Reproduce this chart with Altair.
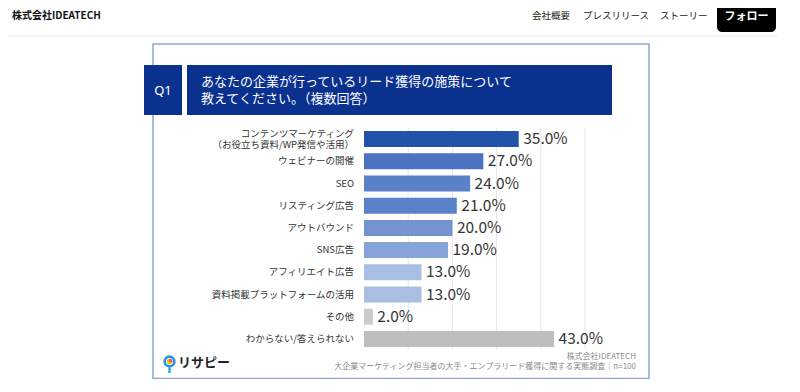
import altair as alt
import pandas as pd

# ---- data ----
categories = [
    "コンテンツマーケティング\n（お役立ち資料/WP発信や活用）",
    "ウェビナーの開催",
    "SEO",
    "リスティング広告",
    "アウトバウンド",
    "SNS広告",
    "アフィリエイト広告",
    "資料掲載プラットフォームの活用",
    "その他",
    "わからない/答えられない",
]
values = [35.0, 27.0, 24.0, 21.0, 20.0, 19.0, 13.0, 13.0, 2.0, 43.0]
bar_colors = ["#2352ab", "#4b73c1", "#5a80c7", "#5b81c8", "#7394d1", "#87a4d8",
              "#a8bee3", "#a8bee3", "#cacaca", "#bebebe"]
grid_values = [10, 20, 30, 40, 50]

question_tag = "Q1"
title_line1 = "あなたの企業が行っているリード獲得の施策について"
title_line2 = "教えてください。（複数回答）"
site_name = "株式会社IDEATECH"
nav_items = ["会社概要", "プレスリリース", "ストーリー"]
follow_label = "フォロー"
source_company = "株式会社IDEATECH"
source_text = "大企業マーケティング担当者の大手・エンプラリード獲得に関する実態調査｜n=100"
logo_text = "リサピー"

df = pd.DataFrame({"cat": categories, "value": values})

FONT = "Noto Sans CJK JP"
BLUE = "#0b318f"
PLOT_W, PLOT_H = 221, 222


def one():
    return alt.Chart(pd.DataFrame({"k": [0]}))


def txt(text, x, y, size, color, align="left", weight="normal", font=FONT):
    return one().mark_text(
        align=align, baseline="middle", fontSize=size, color=color,
        fontWeight=weight, font=font
    ).encode(x=alt.value(x), y=alt.value(y), text=alt.value(text))


y_enc = alt.Y("cat:N", sort=categories, axis=None,
              scale=alt.Scale(paddingInner=0.28, paddingOuter=0.14, range=[0, PLOT_H]))
x_enc = alt.X("value:Q", scale=alt.Scale(domain=[0, 50], nice=False, range=[0, PLOT_W]),
              axis=None)

base = alt.Chart(df)

grid = alt.Chart(pd.DataFrame({"g": grid_values})).mark_rule(
    color="#e6e6e6", strokeWidth=1).encode(
    x=alt.X("g:Q", scale=alt.Scale(domain=[0, 50], nice=False, range=[0, PLOT_W]), axis=None),
    y=alt.value(0), y2=alt.value(PLOT_H))

bars = base.mark_bar().encode(
    x=x_enc,
    y=y_enc,
    color=alt.Color("cat:N", scale=alt.Scale(domain=categories, range=bar_colors), legend=None),
)

value_labels = base.transform_calculate(
    label="format(datum.value, '.1f') + '%'"
).mark_text(align="left", baseline="middle", dx=4.5, fontSize=15.5, color="#363636",
            font=FONT, fontWeight=400).encode(
    x="value:Q", y=y_enc, text="label:N"
)

lab_base = base.transform_calculate(
    n="length(split(datum.cat, '\\n'))",
    first="split(datum.cat, '\\n')[0]",
    second="length(split(datum.cat, '\\n')) > 1 ? split(datum.cat, '\\n')[1] : ''",
)
lab_kw = dict(align="right", baseline="middle", fontSize=9.5, color="#333333", font=FONT)
lab_single = lab_base.transform_filter("datum.n == 1").mark_text(**lab_kw).encode(
    x=alt.value(-10), y=y_enc, text="first:N")
lab_top = lab_base.transform_filter("datum.n > 1").mark_text(dy=-5, **lab_kw).encode(
    x=alt.value(-10), y=y_enc, text="first:N")
lab_bottom = lab_base.transform_filter("datum.n > 1").mark_text(dy=5.5, **lab_kw).encode(
    x=alt.value(-10), y=y_enc, text="second:N")

# ---- frame & title boxes ----
frame = one().mark_rect(fill="white", stroke="#8fa5cf", strokeWidth=1.5).encode(
    x=alt.value(-211), x2=alt.value(285), y=alt.value(-84), y2=alt.value(250.5))
q_box = one().mark_rect(fill=BLUE).encode(
    x=alt.value(-220), x2=alt.value(-182), y=alt.value(-63), y2=alt.value(-13))
t_box = one().mark_rect(fill=BLUE).encode(
    x=alt.value(-177), x2=alt.value(248), y=alt.value(-63), y2=alt.value(-13))
q_text = txt(question_tag, -201, -37, 13, "white", align="center", font="Noto Sans")
t_line1 = txt(title_line1, -163, -46, 13, "white")
t_line2 = txt(title_line2, -163, -29, 13, "white")

# ---- page header ----
header_sep = one().mark_rule(color="#e8e8e8", strokeWidth=1).encode(
    x=alt.value(-372), x2=alt.value(436), y=alt.value(-92))
site = txt(site_name, -352, -112, 10, "#111111", weight="bold")
nav1 = txt(nav_items[0], 168, -112, 9.5, "#222222")
nav2 = txt(nav_items[1], 219, -112, 9.5, "#222222")
nav3 = txt(nav_items[2], 296, -112, 9.5, "#222222")
btn = one().mark_rect(fill="black", cornerRadius=5).encode(
    x=alt.value(353), x2=alt.value(412), y=alt.value(-125), y2=alt.value(-96))
btn_text = txt(follow_label, 382.5, -111, 11, "white", align="center", weight="bold")

# ---- footer ----
src1 = txt(source_company, 272, 229, 8, "#8a8a8a", align="right")
src2 = txt(source_text, 272, 239, 8, "#8a8a8a", align="right")
logo_ring = one().mark_point(shape="circle", filled=False, size=95, strokeWidth=2.6,
                             color="#2196e8", opacity=1).encode(
    x=alt.value(-194.5), y=alt.value(233.5))
logo_core = one().mark_point(shape="circle", filled=True, size=28, color="#f2b800",
                             opacity=1).encode(x=alt.value(-194.5), y=alt.value(233.5))
logo_arc = one().mark_arc(radius=3, theta=0, theta2=1.8, color="#e84f6a").encode(
    x=alt.value(-194.5), y=alt.value(233.5))
logo_stem = one().mark_rule(color="#2196e8", strokeWidth=2.2).encode(
    x=alt.value(-194.5), y=alt.value(239.5), y2=alt.value(245))
logo_word = txt(logo_text, -186, 235, 13, "#222222", weight="bold")

chart = alt.layer(
    frame, header_sep, site, nav1, nav2, nav3, btn, btn_text,
    q_box, t_box, q_text, t_line1, t_line2,
    grid, bars, value_labels, lab_single, lab_top, lab_bottom,
    src1, src2, logo_ring, logo_core, logo_arc, logo_stem, logo_word,
).properties(
    width=413, height=251,
    autosize=alt.AutoSizeParams(type="none"),
    padding={"left": 356, "top": 120, "right": 0, "bottom": 0},
).configure_view(stroke=None)

chart.save("out.html", embed_options={"renderer": "svg", "actions": False})
